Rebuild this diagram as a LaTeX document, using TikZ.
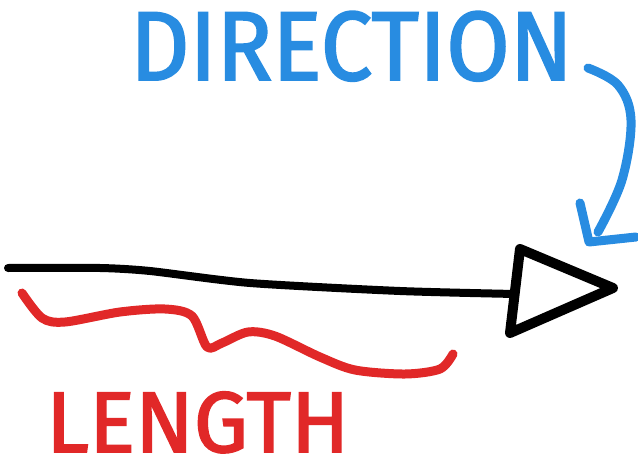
\documentclass[tikz,border=0pt]{standalone}
\usepackage{fontspec}
\usepackage{tikz}
\usetikzlibrary{positioning, calc}
\newfontfamily\handfont{Fira Sans}[BoldFont={Fira Sans}, BoldFeatures={FakeBold=2}]
\definecolor{dirblue}{RGB}{40,140,225}
\definecolor{lenred}{RGB}{225,40,40}

\begin{document}
\begin{tikzpicture}[
        x=1pt, y=-1pt,
        pen/.style={line cap=round, line join=round},
        shaft/.style={pen, line width=8pt, black},
        head/.style={pen, line width=10pt, black},
        brace/.style={pen, line width=9pt, lenred},
        curve/.style={pen, line width=9pt, dirblue},
        word/.style={inner sep=0pt, text depth=0pt, font=\handfont\bfseries}
    ]
        \useasboundingbox (0,0) rectangle (638,466);

        % Vector
        \coordinate (start) at (8,268);
        \coordinate (base) at (515,294);
        \draw[shaft] plot[smooth, tension=0.4] coordinates
            {(start) (100,268) (150,271) (250,283) (400,291) (base)};
        \draw[head] (520,249) -- (613,288) -- (510,333) -- cycle;

        % Length
        \draw[brace] plot[smooth, tension=0.5] coordinates
            {(22,293) (42,318) (65,322) (120,312) (165,309) (192,316)
             (207,347) (222,343) (248,332) (275,336) (320,357) (355,370)
             (405,374) (440,369) (453,354)};
        \node[word, anchor=base west, text=lenred, xscale=1.0]
            (length) at (46,452) {\fontsize{86}{90}\selectfont LENGTH};

        % Direction
        \node[word, anchor=base west, text=dirblue, xscale=0.94]
            (direction) at (130,80) {\fontsize{98}{100}\selectfont DIRECTION};
        \draw[curve] plot[smooth, tension=0.6] coordinates
            {(588,68) (618,85) (631,120) (622,180) (598,232)};
        \draw[curve] (580,203) -- (589,242) -- (636,237);
    \end{tikzpicture}
\end{document}
